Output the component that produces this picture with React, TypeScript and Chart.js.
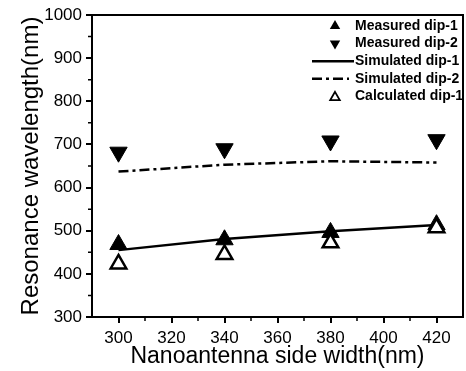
import React, { useEffect, useRef } from "react";
import { Chart, registerables } from "chart.js";

Chart.register(...registerables);

const sideWidths = [300, 340, 380, 420];
const measuredDip1 = [468, 479, 496, 514];
const measuredDip2 = [682, 690, 708, 711];
const simulatedDip1 = [455, 481, 499, 513];
const simulatedDip2 = [637, 653, 661, 658];
const calculatedDip1 = [423, 445, 472, 507];

const xTickValues = [300, 320, 340, 360, 380, 400, 420];
const xMinorTickValues = [310, 330, 350, 370, 390, 410];
const yTickValues = [300, 400, 500, 600, 700, 800, 900, 1000];
const yMinorTickValues = [350, 450, 550, 650, 750, 850, 950];

const xTitle = "Nanoantenna side width(nm)";
const yTitle = "Resonance wavelength(nm)";
const legendLabels = [
  "Measured dip-1",
  "Measured dip-2",
  "Simulated dip-1",
  "Simulated dip-2",
  "Calculated dip-1",
];

const FONT = '"Liberation Sans", Arial, Helvetica, sans-serif';
const DASH_DOT = [10, 4, 3, 4];

function tri(ctx: CanvasRenderingContext2D, x: number, y: number, r: number, down: boolean) {
  const s = down ? -1 : 1;
  const h = Math.sin(Math.PI / 3) * r;
  ctx.beginPath();
  ctx.moveTo(x, y - s * r);
  ctx.lineTo(x + h, y + s * r / 2);
  ctx.lineTo(x - h, y + s * r / 2);
  ctx.closePath();
}

const decorPlugin = {
  id: "decor",
  afterDraw(chart: any) {
    const { ctx, chartArea: a, scales } = chart;
    ctx.save();
    // frame
    ctx.strokeStyle = "#000";
    ctx.lineWidth = 2;
    ctx.setLineDash([]);
    ctx.strokeRect(a.left, a.top, a.right - a.left, a.bottom - a.top);
    // minor ticks
    ctx.lineWidth = 1.5;
    ctx.beginPath();
    xMinorTickValues.forEach((v) => {
      const px = scales.x.getPixelForValue(v);
      ctx.moveTo(px, a.bottom);
      ctx.lineTo(px, a.bottom + 4);
    });
    yMinorTickValues.forEach((v) => {
      const py = scales.y.getPixelForValue(v);
      ctx.moveTo(a.left, py);
      ctx.lineTo(a.left - 4, py);
    });
    ctx.stroke();

    // axis titles
    ctx.fillStyle = "#000";
    ctx.textAlign = "center";
    ctx.textBaseline = "alphabetic";
    ctx.font = `23px ${FONT}`;
    ctx.fillText(xTitle, (a.left + a.right) / 2, 363);
    ctx.save();
    ctx.translate(37.5, (a.top + a.bottom) / 2);
    ctx.rotate(-Math.PI / 2);
    ctx.font = `24px ${FONT}`;
    ctx.fillText(yTitle, 0, 0);
    ctx.restore();

    // legend
    ctx.font = `bold 14px ${FONT}`;
    ctx.textAlign = "left";
    ctx.textBaseline = "middle";
    legendLabels.forEach((label, i) => {
      const y = 26 + i * 17.6;
      ctx.fillStyle = "#000";
      ctx.fillText(label, 355, y);
      if (i === 0 || i === 1) {
        tri(ctx, 335, y, 6, i === 1);
        ctx.fill();
      } else if (i === 4) {
        tri(ctx, 335, y + 1, 5.5, false);
        ctx.lineWidth = 1.8;
        ctx.stroke();
      } else {
        ctx.lineWidth = 2.5;
        ctx.setLineDash(i === 3 ? DASH_DOT : []);
        ctx.beginPath();
        ctx.moveTo(312, y);
        ctx.lineTo(i === 3 ? 349 : 354, y);
        ctx.stroke();
        ctx.setLineDash([]);
      }
    });
    ctx.restore();
  },
};

const toPts = (ys: number[]) => sideWidths.map((x, i) => ({ x, y: ys[i] }));

export default function App() {
  const ref = useRef<HTMLCanvasElement>(null);
  useEffect(() => {
    if (!ref.current) return;
    const chart = new Chart(ref.current, {
      type: "line",
      data: {
        datasets: [
          {
            label: legendLabels[0],
            data: toPts(measuredDip1),
            showLine: false,
            pointStyle: "triangle",
            pointRadius: 10,
            pointBackgroundColor: "#000",
            pointBorderColor: "#000",
            pointBorderWidth: 1,
            order: 1,
          },
          {
            label: legendLabels[1],
            data: toPts(measuredDip2),
            showLine: false,
            pointStyle: "triangle",
            pointRotation: 180,
            pointRadius: 10,
            pointBackgroundColor: "#000",
            pointBorderColor: "#000",
            pointBorderWidth: 1,
            order: 1,
          },
          {
            label: legendLabels[2],
            data: toPts(simulatedDip1),
            borderColor: "#000",
            borderWidth: 2.5,
            pointRadius: 0,
            tension: 0,
            order: 3,
          },
          {
            label: legendLabels[3],
            data: toPts(simulatedDip2),
            borderColor: "#000",
            borderWidth: 2.5,
            borderDash: DASH_DOT,
            pointRadius: 0,
            tension: 0,
            order: 3,
          },
          {
            label: legendLabels[4],
            data: toPts(calculatedDip1),
            showLine: false,
            pointStyle: "triangle",
            pointRadius: 9,
            pointBackgroundColor: "#fff",
            pointBorderColor: "#000",
            pointBorderWidth: 2.5,
            order: 0,
          },
        ],
      },
      options: {
        responsive: false,
        animation: false,
        layout: { autoPadding: false, padding: { top: 15, right: 3, left: 0, bottom: 0 } },
        plugins: { legend: { display: false }, tooltip: { enabled: false } },
        scales: {
          x: {
            type: "linear",
            min: 290,
            max: 430,
            afterBuildTicks: (s: any) => {
              s.ticks = xTickValues.map((v) => ({ value: v }));
            },
            afterFit: (s: any) => {
              s.height = 54;
              s.paddingLeft = 0;
              s.paddingRight = 0;
            },
            grid: {
              drawOnChartArea: false,
              drawTicks: true,
              tickLength: 6,
              color: "#000",
              lineWidth: 2,
            },
            border: { display: false },
            ticks: {
              color: "#000",
              font: { family: FONT, size: 17 },
              padding: 5,
              maxRotation: 0,
              autoSkip: false,
              callback: (v: any) => String(v),
            },
          },
          y: {
            type: "linear",
            min: 300,
            max: 1000,
            afterBuildTicks: (s: any) => {
              s.ticks = yTickValues.map((v) => ({ value: v }));
            },
            afterFit: (s: any) => {
              s.width = 92;
              s.paddingTop = 0;
              s.paddingBottom = 0;
            },
            grid: {
              drawOnChartArea: false,
              drawTicks: true,
              tickLength: 6,
              color: "#000",
              lineWidth: 2,
            },
            border: { display: false },
            ticks: {
              color: "#000",
              font: { family: FONT, size: 17 },
              padding: 4,
              autoSkip: false,
              callback: (v: any) => String(v),
            },
          },
        },
      },
      plugins: [decorPlugin],
    });
    return () => chart.destroy();
  }, []);

  return (
    <canvas
      ref={ref}
      width={466}
      height={371}
      style={{ position: "absolute", left: 0, top: 0, display: "block", background: "#fff" }}
    />
  );
}
